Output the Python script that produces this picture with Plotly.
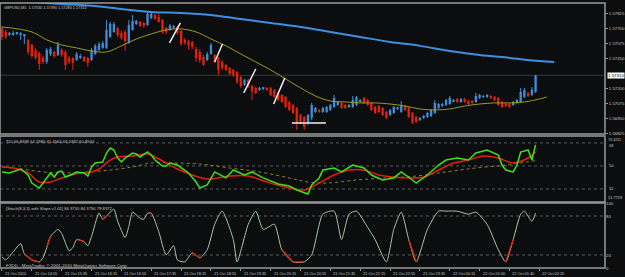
import plotly.graph_objects as go

# ---------------- data ----------------
bars = list(range(144))
open_ = [1.57708,1.57674,1.57649,1.57649,1.57657,1.57649,1.57641,1.57607,1.57565,1.57523,
 1.57498,1.57456,1.57422,1.57489,1.57506,1.57481,1.57523,1.57506,1.57456,1.57456,
 1.57439,1.57456,1.57464,1.57456,1.57439,1.57489,1.57523,1.57540,1.57540,1.57632,
 1.57674,1.57708,1.57666,1.57674,1.57582,1.57691,1.57741,1.57758,1.57750,1.57733,
 1.57792,1.57817,1.57800,1.57775,1.57708,1.57691,1.57708,1.57716,1.57683,1.57607,
 1.57598,1.57590,1.57531,1.57506,1.57464,1.57439,1.57489,1.57481,1.57456,1.57422,
 1.57397,1.57372,1.57355,1.57338,1.57296,1.57229,1.57271,1.57220,1.57204,1.57187,
 1.57195,1.57204,1.57204,1.57187,1.57162,1.57145,1.57128,1.57086,1.57061,1.57036,
 1.56977,1.56960,1.56910,1.56952,1.57002,1.57019,1.57002,1.57002,1.57019,1.57044,
 1.57061,1.57078,1.57061,1.57044,1.57044,1.57061,1.57086,1.57120,1.57103,1.57078,
 1.57044,1.57052,1.57036,1.57002,1.56977,1.56994,1.57027,1.57002,1.57052,1.57036,
 1.56994,1.56960,1.56935,1.56952,1.56960,1.56968,1.56994,1.57036,1.57052,1.57061,
 1.57069,1.57094,1.57111,1.57086,1.57111,1.57094,1.57094,1.57086,1.57120,1.57128,
 1.57128,1.57136,1.57128,1.57120,1.57086,1.57069,1.57069,1.57061,1.57078,1.57086,
 1.57128,1.57162,1.57145,1.57170]
close = [1.57632,1.57632,1.57666,1.57666,1.57666,1.57657,1.57649,1.57506,1.57472,1.57456,
 1.57405,1.57422,1.57523,1.57531,1.57472,1.57565,1.57481,1.57397,1.57422,1.57414,
 1.57489,1.57472,1.57430,1.57414,1.57523,1.57557,1.57573,1.57582,1.57691,1.57741,
 1.57741,1.57649,1.57624,1.57598,1.57733,1.57767,1.57767,1.57725,1.57725,1.57825,
 1.57825,1.57783,1.57758,1.57674,1.57674,1.57725,1.57725,1.57666,1.57573,1.57582,
 1.57565,1.57548,1.57456,1.57439,1.57397,1.57489,1.57565,1.57422,1.57355,1.57372,
 1.57355,1.57321,1.57313,1.57254,1.57220,1.57271,1.57220,1.57178,1.57162,1.57204,
 1.57204,1.57187,1.57145,1.57128,1.57103,1.57086,1.57044,1.57019,1.56994,1.56918,
 1.56918,1.56876,1.56977,1.57061,1.57036,1.57002,1.57036,1.57044,1.57061,1.57120,
 1.57086,1.57036,1.57036,1.57061,1.57103,1.57128,1.57103,1.57078,1.57061,1.57019,
 1.56994,1.57002,1.56977,1.56952,1.57019,1.57044,1.57036,1.57061,1.57019,1.56960,
 1.56910,1.56918,1.56952,1.56968,1.56994,1.57019,1.57078,1.57069,1.57069,1.57103,
 1.57120,1.57103,1.57086,1.57111,1.57086,1.57069,1.57078,1.57136,1.57145,1.57136,
 1.57145,1.57120,1.57103,1.57061,1.57044,1.57052,1.57044,1.57086,1.57103,1.57170,
 1.57187,1.57136,1.57187,1.57310]
high = [1.57725,1.57691,1.57674,1.57683,1.57674,1.57674,1.57657,1.57615,1.57573,1.57540,
 1.57506,1.57472,1.57540,1.57548,1.57514,1.57590,1.57540,1.57523,1.57472,1.57464,
 1.57506,1.57489,1.57472,1.57464,1.57540,1.57573,1.57590,1.57598,1.57775,1.57758,
 1.57758,1.57716,1.57683,1.57691,1.57775,1.57817,1.57775,1.57767,1.57758,1.57851,
 1.57834,1.57825,1.57842,1.57783,1.57716,1.57741,1.57733,1.57725,1.57691,1.57624,
 1.57607,1.57598,1.57548,1.57531,1.57481,1.57506,1.57582,1.57489,1.57464,1.57439,
 1.57405,1.57380,1.57363,1.57346,1.57304,1.57279,1.57279,1.57229,1.57212,1.57212,
 1.57212,1.57212,1.57212,1.57195,1.57170,1.57153,1.57136,1.57094,1.57069,1.57044,
 1.56985,1.56968,1.56985,1.57078,1.57044,1.57027,1.57044,1.57052,1.57069,1.57145,
 1.57094,1.57086,1.57069,1.57069,1.57136,1.57136,1.57111,1.57128,1.57111,1.57086,
 1.57052,1.57061,1.57044,1.57010,1.57027,1.57052,1.57044,1.57094,1.57061,1.57044,
 1.57002,1.56968,1.56960,1.56977,1.57002,1.57027,1.57103,1.57078,1.57078,1.57111,
 1.57136,1.57111,1.57120,1.57120,1.57120,1.57103,1.57103,1.57162,1.57153,1.57145,
 1.57153,1.57145,1.57136,1.57128,1.57094,1.57078,1.57078,1.57094,1.57111,1.57204,
 1.57204,1.57170,1.57212,1.57313]
low = [1.57607,1.57615,1.57641,1.57641,1.57649,1.57607,1.57573,1.57481,1.57456,1.57439,
 1.57355,1.57405,1.57405,1.57472,1.57456,1.57472,1.57464,1.57355,1.57405,1.57355,
 1.57430,1.57447,1.57422,1.57380,1.57430,1.57481,1.57514,1.57531,1.57531,1.57624,
 1.57666,1.57632,1.57607,1.57514,1.57573,1.57683,1.57733,1.57716,1.57708,1.57725,
 1.57783,1.57775,1.57750,1.57657,1.57657,1.57683,1.57699,1.57649,1.57557,1.57565,
 1.57523,1.57531,1.57422,1.57414,1.57388,1.57430,1.57481,1.57414,1.57313,1.57355,
 1.57346,1.57313,1.57296,1.57237,1.57204,1.57220,1.57204,1.57103,1.57153,1.57178,
 1.57187,1.57178,1.57136,1.57120,1.57094,1.57078,1.57036,1.57010,1.56985,1.56851,
 1.56901,1.56851,1.56893,1.56935,1.56994,1.56994,1.56994,1.56994,1.57010,1.57036,
 1.57052,1.57027,1.57027,1.57036,1.57036,1.57052,1.57078,1.57069,1.57052,1.57010,
 1.56985,1.56994,1.56968,1.56943,1.56968,1.56985,1.57019,1.56994,1.57010,1.56952,
 1.56901,1.56910,1.56926,1.56943,1.56952,1.56960,1.56985,1.57027,1.57044,1.57052,
 1.57061,1.57086,1.57078,1.57078,1.57078,1.57061,1.57069,1.57078,1.57111,1.57120,
 1.57120,1.57111,1.57094,1.57052,1.57036,1.57044,1.57036,1.57052,1.57069,1.57078,
 1.57120,1.57128,1.57136,1.57162]

ma_slow_x = [0,8,16,24,32,40,48,56,64,72,80,88,96,104,112,120,128,136,144,148]
ma_slow = [1.57943,1.57926,1.57909,1.57893,1.57867,1.57842,1.57834,1.57817,1.57783,1.57750,
           1.57716,1.57674,1.57632,1.57590,1.57557,1.57514,1.57481,1.57456,1.57430,1.57422]
ma_fast_x = [0,8,12,16,20,24,28,32,36,40,44,48,52,56,60,64,68,72,76,80,84,88,92,96,100,
             104,108,112,116,120,124,128,132,136,140,144,146]
ma_fast = [1.57716,1.57674,1.57607,1.57565,1.57540,1.57514,1.57506,1.57557,1.57615,1.57657,
           1.57691,1.57699,1.57674,1.57615,1.57557,1.57489,1.57422,1.57355,1.57279,1.57204,
           1.57136,1.57094,1.57086,1.57078,1.57078,1.57069,1.57052,1.57027,1.57019,1.57027,
           1.57052,1.57069,1.57078,1.57078,1.57086,1.57111,1.57128]

# drawn trend lines (bar index, price)
tl_x0 = [44.9, 57.0, 64.8, 72.8]
tl_y0 = [1.57582, 1.57422, 1.57162, 1.57069]
tl_x1 = [47.8, 59.1, 68.0, 75.8]
tl_y1 = [1.57750, 1.57573, 1.57363, 1.57288]
hl_x = [77.7, 86.8]
hl_y = 1.56910
bid = 1.57310

price_ticks = [1.57825, 1.57700, 1.57575, 1.57450, 1.57200, 1.57075, 1.56950, 1.56825]
price_labels = ["1.57825", "1.57700", "1.57575", "1.57450", "1.57200", "1.57075", "1.56950", "1.56825"]

# TDI
tdi_levels = [68, 50, 32]
tdi_min, tdi_max = 21.7759, 73.4211
tdi_green_x = [0,2,5,7,8,10,11,13,14,15,16,17,19,20,22,23,24,25,27,28,29,30,31,32,33,35,36,37,39,40,
               41,43,44,45,47,48,50,52,53,55,57,60,62,65,67,70,74,77,79,82,83,85,86,89,91,94,97,99,
               102,105,107,110,111,114,117,119,122,125,127,130,133,134,135,137,138,139,141,142,143]
tdi_green = [45.3,44.5,47.6,42.9,36.6,32.7,36.6,44.5,41.3,45.3,46.0,41.3,43.7,45.3,44.5,42.1,49.2,52.3,
             53.1,60.1,64.0,62.5,56.2,53.1,56.2,60.1,59.3,57.0,60.9,58.6,54.6,49.9,49.9,52.3,50.7,48.4,
             44.5,37.4,32.7,35.1,45.3,40.6,46.8,42.9,45.3,40.6,35.9,34.3,31.2,28.0,35.1,40.6,46.8,48.4,
             45.3,50.7,48.4,42.9,39.0,40.6,45.3,39.0,36.6,42.9,50.7,54.6,56.2,54.6,60.1,62.5,58.6,50.7,
             46.8,45.3,50.7,60.9,62.5,54.6,66.5]
tdi_red_x = [0,3,7,10,13,16,21,23,26,29,31,35,39,41,44,47,51,55,61,66,71,77,81,85,89,93,97,101,105,
             109,113,117,121,125,129,133,137,141,143]
tdi_red = [49.2,48.4,44.5,37.4,37.4,40.6,44.5,44.5,47.6,54.6,57.0,57.8,59.3,57.0,52.3,47.6,42.9,39.8,
           42.1,42.1,37.4,32.7,31.2,36.6,42.9,46.8,46.8,42.9,41.3,40.6,41.3,46.8,52.3,54.6,57.8,56.2,
           52.3,56.2,60.9]
tdi_base_x = [0,5,11,17,23,29,35,40,46,53,61,69,77,82,87,95,103,111,119,127,135,143]
tdi_base = [49.2,47.6,45.3,44.5,45.3,46.8,49.2,52.3,52.3,51.5,48.4,45.3,40.6,37.4,36.6,39.0,40.6,42.1,
            45.3,48.4,50.7,54.2]

# Stochastic
st_levels = [80, 20]
st_x = [0,1,3,5,6,8,10,11,12,13,15,16,18,19,20,22,23,24,26,27,28,30,31,33,34,35,37,38,39,40,42,44,46,
        47,49,51,53,55,57,59,62,63,66,68,70,73,75,78,81,83,86,89,91,93,95,98,100,103,105,107,109,111,
        114,117,119,122,125,127,130,133,135,137,139,140,142,143]
st_main = [17.2,12.5,25.0,37.5,21.9,12.5,9.4,15.6,31.3,48.4,59.4,53.1,26.6,31.3,43.8,40.6,34.4,48.4,84.4,
           75.0,79.7,90.6,71.9,46.9,64.1,85.9,76.6,75.0,84.4,84.4,56.3,20.3,34.4,12.5,9.4,23.4,15.6,28.1,
           67.2,87.5,43.8,9.4,67.2,87.5,59.4,67.2,28.1,9.4,9.4,20.3,82.8,87.5,43.8,82.8,87.5,62.5,43.8,9.4,
           59.4,85.9,43.8,9.4,59.4,87.5,87.5,87.5,82.8,85.9,67.2,28.1,9.4,43.8,82.8,87.5,71.9,84.4]
# stretches of the stochastic line drawn in red (positions in st_x)
st_red_runs = [(4, 6), (8, 9), (14, 15), (19, 20), (28, 29), (35, 36), (46, 48), (60, 61), (70, 71)]

time_idx = [0,8,16,24,32,40,48,56,64,72,80,88,96,104,112,120,128,136,144]
time_labels = ["21 Oct 2010","21 Oct 14:55","21 Oct 15:35","21 Oct 16:15","21 Oct 16:55",
               "21 Oct 17:35","21 Oct 18:15","21 Oct 18:55","21 Oct 19:35","21 Oct 20:15",
               "21 Oct 20:55","21 Oct 21:35","21 Oct 22:15","21 Oct 22:55","21 Oct 23:35",
               "22 Oct 00:15","22 Oct 01:00","22 Oct 01:40","22 Oct 02:20"]

# ---------------- styling ----------------
BG = "#0b0d0f"
GRID = "#9a9a9a"
TXT = "#c8c8c8"
BULL = "#3f8fd8"
BEAR = "#e8200c"
FONT = "Liberation Sans"
H, B, T = 277, 9, 3
PH = H - B - T

def py(pix):
    return (H - B - pix) / PH

D_MAIN = [py(134), 1.0]
D_TDI = [py(202), py(136)]
D_ST = [0.0, py(203)]

fig = go.Figure()

# candles drawn as bars (bodies) + line segments (wicks)
up = [c >= o for o, c in zip(open_, close)]
for is_up, col in [(True, BULL), (False, BEAR)]:
    idx = [i for i in bars if up[i] == is_up]
    wx, wy = [], []
    for i in idx:
        wx += [i, i, None]
        wy += [low[i], high[i], None]
    fig.add_trace(go.Scatter(x=wx, y=wy, mode="lines", line=dict(color=col, width=1),
                             xaxis="x", yaxis="y", showlegend=False, hoverinfo="skip"))
    fig.add_trace(go.Bar(x=idx, y=[close[i] - open_[i] for i in idx], base=[open_[i] for i in idx],
                         width=0.62, marker=dict(color=col, line=dict(width=0)),
                         xaxis="x", yaxis="y", showlegend=False, hoverinfo="skip"))

fig.add_trace(go.Scatter(x=ma_fast_x, y=ma_fast, mode="lines", line=dict(color="#9c9a1c", width=1, shape="spline"),
                         xaxis="x", yaxis="y", showlegend=False, hoverinfo="skip"))
fig.add_trace(go.Scatter(x=ma_slow_x, y=ma_slow, mode="lines", line=dict(color="#3d8fe0", width=2, shape="spline"),
                         xaxis="x", yaxis="y", showlegend=False, hoverinfo="skip"))

fig.add_trace(go.Scatter(x=tdi_base_x, y=tdi_base, mode="lines", line=dict(color="#8a8a1a", width=1, dash="dot", shape="spline"),
                         xaxis="x", yaxis="y2", showlegend=False, hoverinfo="skip"))
fig.add_trace(go.Scatter(x=tdi_red_x, y=tdi_red, mode="lines", line=dict(color="#e81e0c", width=1.5, shape="spline"),
                         xaxis="x", yaxis="y2", showlegend=False, hoverinfo="skip"))
fig.add_trace(go.Scatter(x=tdi_green_x, y=tdi_green, mode="lines", line=dict(color="#3ee01a", width=1.5),
                         xaxis="x", yaxis="y2", showlegend=False, hoverinfo="skip"))

fig.add_trace(go.Scatter(x=st_x, y=st_main, mode="lines", line=dict(color="#a8c8a0", width=1, shape="spline", smoothing=0.6),
                         xaxis="x", yaxis="y3", showlegend=False, hoverinfo="skip"))
for a, b in st_red_runs:
    fig.add_trace(go.Scatter(x=st_x[a:b + 1], y=st_main[a:b + 1], mode="lines",
                             line=dict(color="#e8200c", width=1.2),
                             xaxis="x", yaxis="y3", showlegend=False, hoverinfo="skip"))

shapes = []
for yref in ["y domain", "y2 domain", "y3 domain"]:
    shapes.append(dict(type="rect", xref="paper", yref=yref, x0=0, x1=1, y0=0, y1=1,
                       line=dict(color=GRID, width=1.5)))
shapes.append(dict(type="line", xref="paper", yref="y", x0=0, x1=1, y0=bid, y1=bid,
                   line=dict(color="#3a3a3a", width=1), layer="below"))
for v in tdi_levels:
    shapes.append(dict(type="line", xref="paper", yref="y2", x0=0, x1=1, y0=v, y1=v,
                       line=dict(color="#5a5a5a", width=1, dash="dot"), layer="below"))
for v in st_levels:
    shapes.append(dict(type="line", xref="paper", yref="y3", x0=0, x1=1, y0=v, y1=v,
                       line=dict(color="#5a5a5a", width=1, dash="dot"), layer="below"))
for a, b, c, d in zip(tl_x0, tl_y0, tl_x1, tl_y1):
    shapes.append(dict(type="line", xref="x", yref="y", x0=a, y0=b, x1=c, y1=d,
                       line=dict(color="#f0f0f0", width=1.5)))
shapes.append(dict(type="line", xref="x", yref="y", x0=hl_x[0], x1=hl_x[1], y0=hl_y, y1=hl_y,
                   line=dict(color="#f0f0f0", width=1.5)))

ann = []
def txt(x, y, s, size=4.2, xref="paper", yref="paper", xanchor="left", yanchor="top", **kw):
    ann.append(dict(x=x, y=y, xref=xref, yref=yref, text=s, showarrow=False, xanchor=xanchor,
                    yanchor=yanchor, font=dict(family=FONT, size=size, color=TXT), **kw))

txt(0.004, py(4), "GBPUSD,M5  1.57330 1.57390 1.57280 1.57310", size=3.8)
txt(0.006, py(137), "TDI 66.8396 54.1980 41.4564 66.5392 60.8534", size=4.2)
txt(0.006, py(204), "[Stoch(8,3,3) with Slope v1.01] 84.3750 84.3750 79.8372", size=4.2)
txt(0.006, py(261), "FXDD - MetaTrader, \u00a9 2001-2010 MetaQuotes Software Corp.", size=4.4)
# TDI right-hand labels
txt(1.0, py(135.6), f"{tdi_max:.4f}", size=3.7, xshift=1)
txt(1.0, py(140.8), "68", size=3.9, xshift=2)
txt(1.0, 50, "50", size=3.9, yref="y2", yanchor="middle", xshift=2)
txt(1.0, 32, "32", size=3.9, yref="y2", yanchor="middle", xshift=2)
txt(1.0, py(202), f"{tdi_min:.4f}", size=3.9, xshift=1, yanchor="bottom")
ann.append(dict(x=1.0, y=bid, xref="paper", yref="y", text="1.57310", showarrow=False,
                xanchor="left", yanchor="middle", bgcolor="#ffffff", borderpad=0, xshift=2,
                font=dict(family=FONT, size=4.4, color="#000000")))
for i, lab in zip(time_idx, time_labels):
    ann.append(dict(x=i, y=0, xref="x", yref="paper", text=lab, showarrow=False,
                    xanchor="left", yanchor="top", xshift=1, yshift=-1,
                    font=dict(family=FONT, size=3.9, color=TXT)))

axfont = dict(family=FONT, size=4.3, color=TXT)
fig.update_layout(
    width=625, height=277, margin=dict(l=0, r=17, t=T, b=B),
    paper_bgcolor=BG, plot_bgcolor=BG, showlegend=False, barmode="overlay",
    xaxis=dict(domain=[0, 1], anchor="y3", range=[-0.53, 161.6], showgrid=False, zeroline=False,
               tickvals=time_idx, ticktext=[""] * len(time_idx),
               ticks="outside", ticklen=2, tickcolor=GRID, showline=False),
    yaxis=dict(domain=D_MAIN, anchor="x", side="right", range=[1.56817, 1.57917], showgrid=False,
               zeroline=False, tickvals=price_ticks, ticktext=price_labels, ticks="outside", ticklen=2,
               tickcolor=GRID, tickfont=axfont, showline=False),
    yaxis2=dict(domain=D_TDI, anchor="x", side="right", range=[tdi_min, tdi_max], showgrid=False,
                zeroline=False, showticklabels=False, ticks="", showline=False),
    yaxis3=dict(domain=D_ST, anchor="x", side="right", range=[0, 100], showgrid=False,
                zeroline=False, tickvals=[100, 80, 20, 0], ticktext=["100", "80", "20", "0"], ticks="",
                tickfont=axfont, showline=False),
    shapes=shapes, annotations=ann,
)
fig.write_html("out.html")
